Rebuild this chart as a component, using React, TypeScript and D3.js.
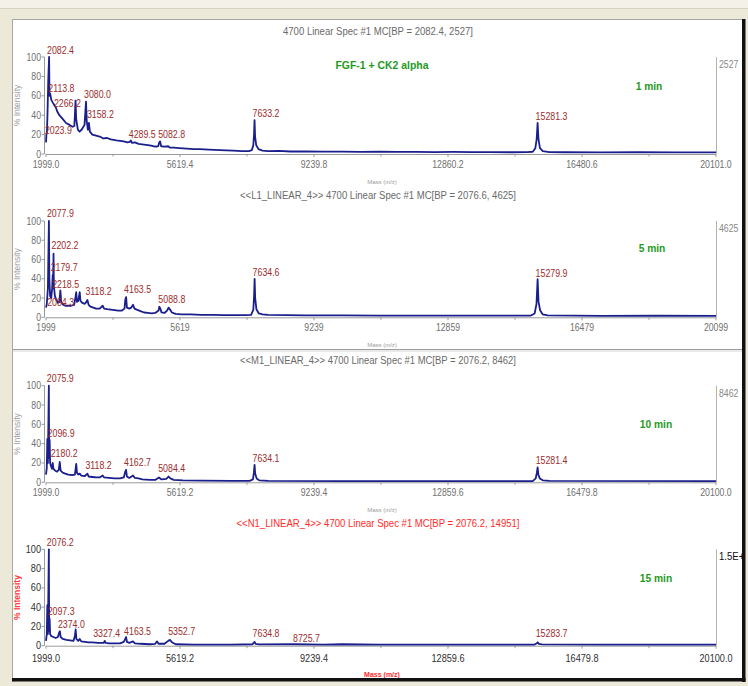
import React from "react";
import * as d3 from "d3";

const FONT = "'Liberation Sans', Arial, sans-serif";

const TITLES = [
  "4700 Linear Spec #1 MC[BP = 2082.4, 2527]",
  "<<L1_LINEAR_4>> 4700 Linear Spec #1 MC[BP = 2076.6, 4625]",
  "<<M1_LINEAR_4>> 4700 Linear Spec #1 MC[BP = 2076.2, 8462]",
  "<<N1_LINEAR_4>> 4700 Linear Spec #1 MC[BP = 2076.2, 14951]",
];
const TIME_LABELS = ["1 min", "5 min", "10 min", "15 min"];
const MAX_COUNTS = ["2527", "4625", "8462", "1.5E+4"];
const SAMPLE_NOTE = "FGF-1 + CK2 alpha";
const X_TICKS = [
  ["1999.0", "5619.4", "9239.8", "12860.2", "16480.6", "20101.0"],
  ["1999", "5619", "9239", "12859", "16479", "20099"],
  ["1999.0", "5619.2", "9239.4", "12859.6", "16479.8", "20100.0"],
  ["1999.0", "5619.2", "9239.4", "12859.6", "16479.8", "20100.0"],
];
const Y_TICKS = [0, 20, 40, 60, 80, 100];

// spectra, [m/z, % intensity]
const TRACE_1MIN: [number, number][] = [
  [1999, 12], [2010, 20], [2023.9, 22], [2040, 42], [2060, 76], [2082.4, 100], [2094, 60], [2113.8, 62],
  [2140, 56], [2183, 53], [2230, 50], [2266.2, 48], [2300, 44], [2360, 40], [2454, 36], [2540, 32],
  [2635, 30], [2720, 28], [2765, 29], [2782, 42], [2797, 55], [2815, 36], [2860, 25], [2906, 23],
  [2960, 25], [3040, 30], [3065, 45], [3080, 54], [3100, 34], [3130, 25], [3158.2, 32], [3185, 23],
  [3250, 20], [3350, 19], [3450, 18], [3550, 16], [3650, 16.5], [3750, 15], [3900, 14], [4000, 13.5],
  [4100, 13], [4200, 12], [4260, 12.5], [4289.5, 14], [4320, 11.5], [4400, 12], [4500, 10.5], [4600, 10],
  [4700, 9.5], [4800, 9], [4900, 8], [4980, 7.5], [5030, 8], [5060, 12], [5082.8, 13], [5110, 8],
  [5200, 7.5], [5300, 8], [5350, 6.5], [5450, 6.5], [5600, 6], [5800, 5.5], [6000, 5], [6150, 5],
  [6400, 4.5], [6700, 4], [7050, 3.5], [7300, 3], [7480, 3], [7560, 4], [7600, 9], [7620, 20],
  [7633.2, 35], [7648, 18], [7680, 9], [7740, 5], [7850, 3.5], [8000, 3], [8300, 3.2], [8600, 2.6],
  [9000, 2.8], [9500, 2.4], [10000, 2.5], [10500, 2.2], [11000, 2.3], [11500, 2.1], [12000, 2.2],
  [12500, 2], [13000, 2.1], [13500, 1.9], [14000, 1.9], [14600, 1.8], [15000, 1.9], [15150, 2.3],
  [15220, 6], [15255, 15], [15281.3, 32], [15305, 15], [15345, 6], [15420, 3], [15600, 2],
  [16000, 1.8], [17000, 1.7], [18000, 1.8], [19000, 1.7], [20101, 1.7],
];
const TRACE_5MIN: [number, number][] = [
  [1999, 10], [2020, 14], [2050, 30], [2077.9, 100], [2090, 40], [2110, 22], [2140, 20], [2165, 30],
  [2179.7, 44], [2190, 30], [2202.2, 66], [2212, 32], [2218.5, 30], [2240, 22], [2280, 18], [2320, 15],
  [2360, 16], [2387, 28], [2410, 16], [2460, 13], [2520, 12], [2600, 12], [2680, 12], [2760, 13],
  [2800, 22], [2815, 26], [2835, 16], [2870, 17], [2910, 26], [2930, 17], [2980, 15], [3050, 14],
  [3090, 16], [3118.2, 18], [3150, 13], [3200, 11], [3280, 10], [3350, 9], [3450, 9], [3530, 12],
  [3570, 9], [3650, 8.5], [3750, 8], [3850, 7.5], [3950, 7], [4050, 7], [4120, 9], [4140, 18],
  [4163.5, 21], [4185, 10], [4250, 9], [4300, 10], [4350, 13], [4390, 9], [4450, 8], [4550, 6.5],
  [4650, 5], [4750, 4.5], [4850, 4], [4950, 4.5], [5040, 7], [5060, 11], [5088.8, 9], [5120, 5],
  [5200, 4.5], [5270, 7], [5310, 10], [5350, 8], [5400, 5], [5500, 3.5], [5650, 3], [5900, 3],
  [6200, 2.5], [6500, 2.5], [6800, 2.3], [7100, 2.2], [7400, 2.2], [7540, 2.5], [7600, 8], [7620, 22],
  [7634.6, 40], [7650, 20], [7685, 8], [7750, 4], [7850, 3], [8000, 2.5], [8500, 2.2], [9000, 2],
  [10000, 1.9], [11000, 1.8], [12000, 1.8], [13000, 1.7], [14000, 1.7], [15100, 1.8], [15200, 4],
  [15250, 14], [15279.9, 39.5], [15305, 16], [15350, 7], [15420, 3], [15550, 2], [17000, 1.5],
  [18500, 1.6], [20099, 1.5],
];
const TRACE_10MIN: [number, number][] = [
  [1999, 8], [2020, 15], [2035, 45], [2050, 20], [2075.9, 100], [2085, 25], [2096.9, 44], [2110, 20],
  [2140, 16], [2165, 14], [2180.2, 20], [2200, 14], [2250, 12], [2300, 11], [2345, 13], [2370, 21],
  [2395, 12], [2450, 10], [2520, 9], [2600, 8], [2700, 7.5], [2780, 8], [2800, 14], [2815, 19],
  [2835, 10], [2870, 8], [2910, 9], [2950, 7], [3050, 6.5], [3118.2, 9], [3150, 6], [3250, 5.5],
  [3350, 5], [3450, 5], [3530, 7], [3570, 5], [3700, 4.5], [3850, 4], [4000, 4], [4100, 5],
  [4140, 11], [4162.7, 13], [4185, 6], [4250, 4.5], [4350, 7], [4400, 4.5], [4500, 4], [4600, 3],
  [4800, 2.5], [4950, 2.5], [5050, 5], [5084.4, 4], [5120, 3], [5250, 3.5], [5310, 6], [5360, 4],
  [5450, 2.5], [5700, 2], [6200, 1.8], [7000, 1.5], [7500, 1.5], [7590, 3], [7615, 10], [7634.1, 18],
  [7650, 9], [7690, 4], [7760, 2], [8000, 1.5], [10000, 1.3], [12000, 1.3], [15150, 1.2], [15230, 4],
  [15260, 10], [15281.4, 15.5], [15300, 8], [15340, 4], [15420, 2], [15600, 1.4], [20100, 1.2],
];
const TRACE_15MIN: [number, number][] = [
  [1999, 5], [2020, 12], [2035, 42], [2050, 12], [2076.2, 100], [2085, 15], [2097.3, 28], [2110, 12],
  [2140, 10], [2200, 9], [2260, 8], [2320, 9], [2350, 13], [2374.0, 15], [2395, 9], [2450, 7],
  [2550, 6], [2650, 5.5], [2740, 5], [2780, 10], [2800, 17], [2820, 7], [2870, 5], [2910, 7],
  [2950, 4.5], [3050, 4], [3150, 3.5], [3250, 3.5], [3400, 3], [3560, 3], [3585, 5], [3610, 3],
  [3700, 2.5], [3850, 2.5], [4000, 2.5], [4100, 4], [4140, 7], [4163.5, 9], [4185, 4], [4250, 3],
  [4350, 4.5], [4400, 2.5], [4550, 2], [4800, 1.5], [4950, 2], [5000, 4.5], [5040, 2], [5200, 2],
  [5300, 5], [5352.7, 6], [5400, 3.5], [5500, 1.5], [6000, 1.2], [7000, 1.2], [7580, 1.5], [7610, 3],
  [7634.8, 4], [7660, 2], [7750, 1.3], [8725.7, 1.5], [9500, 1.2], [10000, 1.5], [11000, 1.2],
  [15200, 1.2], [15260, 2.5], [15283.7, 3.5], [15310, 2], [15400, 1.3], [17000, 1.1], [20100, 1.1],
];
const TRACES = [TRACE_1MIN, TRACE_5MIN, TRACE_10MIN, TRACE_15MIN];

// labelled peaks: [m/z, height of the label in %]
const PEAKS_1MIN: [number, number][] = [
  [2082.4, 103.5], [2113.8, 64.4], [2266.2, 48.6], [3080.0, 57.5], [3158.2, 37], [2023.9, 20.5],
  [4289.5, 16.4], [5082.8, 16.4], [7633.2, 37.7], [15281.3, 35],
];
const PEAKS_5MIN: [number, number][] = [
  [2077.9, 103.8], [2202.2, 70.9], [2179.7, 47.8], [2218.5, 30.4], [2084.3, 12], [3118.2, 23.2],
  [4163.5, 25.2], [5088.8, 14.5], [7634.6, 43.2], [15279.9, 42.2],
];
const PEAKS_10MIN: [number, number][] = [
  [2075.9, 103.5], [2096.9, 46.6], [2180.2, 25.9], [3118.2, 13.8], [4162.7, 16.6], [5084.4, 10.4],
  [7634.1, 20.7], [15281.4, 18.9],
];
const PEAKS_15MIN: [number, number][] = [
  [2076.2, 103.7], [2097.3, 31.8], [2374.0, 18], [3327.4, 8.7], [4163.5, 11.1], [5352.7, 11.1],
  [7634.8, 8.7], [8725.7, 4.1], [15283.7, 8.7],
];
const PEAKS = [PEAKS_1MIN, PEAKS_5MIN, PEAKS_10MIN, PEAKS_15MIN];

// panel layout in the window
const PANELS = [
  { top: 57, base: 154, time: [649, 90] },
  { top: 221, base: 317.3, time: [652, 251.7] },
  { top: 385.7, base: 482.3, time: [656, 428] },
  { top: 549.3, base: 645.7, time: [656, 581.7] },
];
const TITLE_WIDTHS = [190, 276, 276, 283];
const X0 = 46;
const X1 = 716;

function Txt({ x, y, size = 10, fill = "#6e6e6e", anchor = "start", weight = "normal", sx = 0.87, children }: any) {
  return (
    <text
      transform={`translate(${x},${y}) scale(${sx},1)`}
      fontSize={size}
      fill={fill}
      textAnchor={anchor}
      fontWeight={weight}
      fontFamily={FONT}
    >
      {children}
    </text>
  );
}

function Panel({ i }: { i: number }) {
  const p = PANELS[i];
  const ticks = X_TICKS[i];
  const last = i === 3;
  const x = d3.scaleLinear().domain([+ticks[0], +ticks[ticks.length - 1]]).range([X0, X1]);
  const y = d3.scaleLinear().domain([0, 100]).range([p.base, p.top]);
  const line = d3
    .line<[number, number]>()
    .x((d) => x(d[0]))
    .y((d) => y(d[1]));
  const minor = ticks.slice(1).map((t, k) => (+t + +ticks[k]) / 2);
  const axisCol = "#9a9a9a";
  const tickText = last ? "#303030" : "#707070";

  return (
    <g>
      <text
        x={378}
        y={p.top - 22}
        fontSize={10}
        fontFamily={FONT}
        textAnchor="middle"
        fill={last ? "#ff2b2b" : "#6a6a6a"}
        textLength={TITLE_WIDTHS[i]}
        lengthAdjust="spacingAndGlyphs"
      >
        {TITLES[i]}
      </text>

      {/* y axis */}
      <line x1={44.5} x2={44.5} y1={p.top} y2={p.base} stroke={axisCol} />
      {Y_TICKS.map((t) => (
        <g key={t}>
          <line x1={41.5} x2={44.5} y1={y(t)} y2={y(t)} stroke={axisCol} />
          <Txt x={41} y={y(t) + 3.5} anchor="end" fill={tickText} size={last ? 10.5 : 10}>
            {t}
          </Txt>
        </g>
      ))}
      <text
        transform={`translate(20,${(p.top + p.base) / 2}) rotate(-90)`}
        fontSize={8.5}
        fontFamily={FONT}
        textAnchor="middle"
        fill={last ? "#ff3a3a" : "#a0a0a0"}
        fontWeight={last ? "bold" : "normal"}
      >
        % Intensity
      </text>

      {/* right max-count axis */}
      <line x1={X1 + 0.5} x2={X1 + 0.5} y1={p.top} y2={p.base} stroke="#b4b4b4" />
      <g clipPath="url(#win)">
        <Txt x={719} y={p.top + 11} fill={last ? "#111" : "#888"} size={last ? 11 : 10}>
          {MAX_COUNTS[i]}
        </Txt>
      </g>

      {/* x axis */}
      <line x1={X0} x2={X1} y1={p.base + 0.5} y2={p.base + 0.5} stroke={axisCol} />
      {ticks.map((t) => (
        <g key={t}>
          <line x1={x(+t)} x2={x(+t)} y1={p.base} y2={p.base + 3} stroke={axisCol} />
          <Txt x={x(+t)} y={p.base + (last ? 16 : 14)} anchor="middle" fill={tickText} size={last ? 10.5 : 10}>
            {t}
          </Txt>
        </g>
      ))}
      {minor.map((m) => (
        <line key={m} x1={x(m)} x2={x(m)} y1={p.base} y2={p.base + 2.5} stroke={axisCol} />
      ))}
      <Txt
        x={382}
        y={p.base + (last ? 31 : 29.5)}
        anchor="middle"
        size={last ? 7 : 6}
        fill={last ? "#ff2b2b" : "#9a9a9a"}
        weight={last ? "bold" : "normal"}
        sx={1}
      >
        Mass (m/z)
      </Txt>

      {/* spectrum */}
      <path d={line(TRACES[i]) || ""} fill="none" stroke="#1b1f8c" strokeWidth={1.8} strokeLinejoin="round" />

      {PEAKS[i].map(([m, h]) => (
        <Txt key={m} x={x(m) - 2} y={y(h)} size={11} fill="#9b2d2d" sx={0.8}>
          {m.toFixed(1)}
        </Txt>
      ))}

      {i === 0 && (
        <Txt x={382} y={69} anchor="middle" size={11} weight="bold" fill="#1f9a1f" sx={0.95}>
          {SAMPLE_NOTE}
        </Txt>
      )}
      <Txt x={p.time[0]} y={p.time[1]} anchor="middle" size={11} weight="bold" fill="#1f9a1f" sx={0.93}>
        {TIME_LABELS[i]}
      </Txt>
    </g>
  );
}

export default function App() {
  const W = 748;
  const H = 686;
  return (
    <svg width={W} height={H} style={{ position: "absolute", left: 0, top: 0 }}>
      <defs>
        <clipPath id="win">
          <rect x={13} y={20} width={729} height={658} />
        </clipPath>
      </defs>
      <rect x={0} y={0} width={W} height={H} fill="#ece9d8" />
      <rect x={0} y={0} width={W} height={8} fill="#f4f2e8" />
      <line x1={0} x2={W} y1={8.5} y2={8.5} stroke="#d8d4c4" />
      <rect x={13} y={20} width={729} height={658} fill="#ffffff" />
      <line x1={12.5} x2={12.5} y1={19} y2={682} stroke="#a6a6a6" />
      <line x1={12} x2={745} y1={19.5} y2={19.5} stroke="#a6a6a6" />

      {[0, 1, 2, 3].map((i) => (
        <Panel key={i} i={i} />
      ))}

      <line x1={13} x2={742} y1={349.5} y2={349.5} stroke="#9c9c9c" />
      <line x1={13} x2={742} y1={351} y2={351} stroke="#d4d4d4" />

      <rect x={742} y={19} width={3.5} height={663} fill="#111" />
      <rect x={12} y={678} width={733.5} height={3.5} fill="#111" />
    </svg>
  );
}
